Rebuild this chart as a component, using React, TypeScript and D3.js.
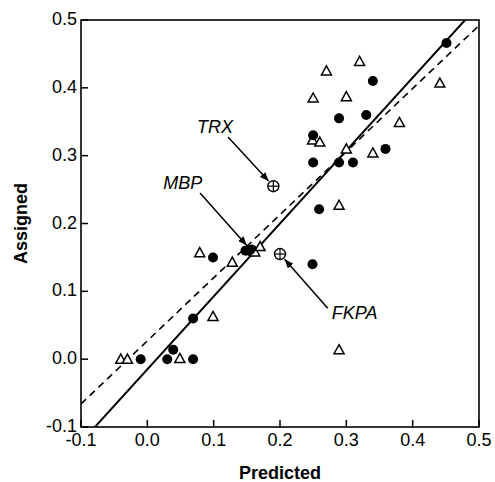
import React from "react";
import { scaleLinear } from "d3";

// filled circles
const filledX = [0.451, 0.34, 0.289, 0.33, 0.25, 0.25, 0.289, 0.31, 0.359, 0.259, 0.249, 0.148, 0.155, 0.099, 0.069, 0.039, -0.01, 0.03, 0.069];
const filledY = [0.466, 0.41, 0.355, 0.36, 0.33, 0.29, 0.29, 0.29, 0.31, 0.221, 0.14, 0.16, 0.161, 0.15, 0.06, 0.014, 0.0, 0.0, 0.0];

// open triangles
const openX = [0.32, 0.27, 0.441, 0.25, 0.3, 0.38, 0.249, 0.26, 0.3, 0.34, 0.289, 0.289, 0.079, 0.128, 0.162, 0.17, 0.099, 0.049, -0.04, -0.03];
const openY = [0.439, 0.425, 0.407, 0.385, 0.387, 0.349, 0.323, 0.32, 0.31, 0.304, 0.227, 0.014, 0.157, 0.143, 0.158, 0.166, 0.063, 0.001, 0.0, 0.0];

// labelled proteins (crossed circles)
const namedLabels = ["TRX", "MBP", "FKPA"];
const namedX = [0.19, 0.157, 0.2];
const namedY = [0.255, 0.16, 0.155];
const labelX = [0.075, 0.024, 0.278];
const labelY = [0.333, 0.251, 0.059];
const arrowFromX = [0.1216, 0.0794, 0.272];
const arrowFromY = [0.3274, 0.245, 0.075];

// fit lines
const solidSlope = 1.075;
const solidIntercept = -0.015;
const dashSlope = 0.93;
const dashIntercept = 0.027;

const ticks = [-0.1, 0.0, 0.1, 0.2, 0.3, 0.4, 0.5];

export default function App() {
  const width = 495;
  const height = 482;
  const left = 81;
  const right = 479;
  const top = 20;
  const bottom = 427;
  const font = "'Liberation Sans', Arial, Helvetica, sans-serif";

  const x = scaleLinear().domain([-0.1, 0.5]).range([left, right]);
  const y = scaleLinear().domain([-0.1, 0.5]).range([bottom, top]);

  const fitLine = (m: number, b: number) => ({
    x1: x(-0.1),
    y1: y(m * -0.1 + b),
    x2: x(0.5),
    y2: y(m * 0.5 + b),
  });
  const solid = fitLine(solidSlope, solidIntercept);
  const dash = fitLine(dashSlope, dashIntercept);

  const tri = (cx: number, cy: number) => {
    const s = 5;
    return `M${cx},${cy - s} L${cx + s},${cy + s * 0.8} L${cx - s},${cy + s * 0.8} Z`;
  };

  return (
    <svg
      width={width}
      height={height}
      style={{ position: "absolute", left: 0, top: 0, background: "#fff" }}
      fontFamily={font}
    >
      <defs>
        <clipPath id="plot">
          <rect x={left} y={top} width={right - left} height={bottom - top} />
        </clipPath>
        <marker
          id="head"
          viewBox="0 0 10 10"
          refX={10}
          refY={5}
          markerWidth={9}
          markerHeight={9}
          markerUnits="userSpaceOnUse"
          orient="auto"
        >
          <path d="M0,1 L10,5 L0,9 Z" fill="#000" />
        </marker>
      </defs>

      <g clipPath="url(#plot)">
        <line {...dash} stroke="#000" strokeWidth={1.6} strokeDasharray="7,5" />
        <line {...solid} stroke="#000" strokeWidth={2} />
      </g>

      {namedLabels.map((name, i) => {
        const cx = x(namedX[i]);
        const cy = y(namedY[i]);
        const sx = x(arrowFromX[i]);
        const sy = y(arrowFromY[i]);
        const len = Math.hypot(cx - sx, cy - sy);
        const ex = cx - ((cx - sx) / len) * 7;
        const ey = cy - ((cy - sy) / len) * 7;
        return (
          <g key={name}>
            <line x1={sx} y1={sy} x2={ex} y2={ey} stroke="#000" strokeWidth={1.5} markerEnd="url(#head)" />
            <circle cx={cx} cy={cy} r={5.5} fill="#fff" stroke="#000" strokeWidth={1.4} />
            <line x1={cx - 5.5} y1={cy} x2={cx + 5.5} y2={cy} stroke="#000" strokeWidth={1.2} />
            <line x1={cx} y1={cy - 5.5} x2={cx} y2={cy + 5.5} stroke="#000" strokeWidth={1.2} />
            <text x={x(labelX[i])} y={y(labelY[i])} fontSize={18} fontStyle="italic">
              {name}
            </text>
          </g>
        );
      })}

      {openX.map((d, i) => (
        <path key={"t" + i} d={tri(x(d), y(openY[i]))} fill="#fff" stroke="#000" strokeWidth={1.5} />
      ))}
      {filledX.map((d, i) => (
        <circle key={"f" + i} cx={x(d)} cy={y(filledY[i])} r={5} fill="#000" />
      ))}

      <rect x={left} y={top} width={right - left} height={bottom - top} fill="none" stroke="#000" strokeWidth={1.6} />

      {ticks.map((t) => (
        <g key={"x" + t}>
          <line x1={x(t)} x2={x(t)} y1={bottom} y2={bottom - 7} stroke="#000" strokeWidth={1.5} />
          <text x={x(t)} y={bottom + 19} textAnchor="middle" fontSize={18}>
            {t.toFixed(1)}
          </text>
        </g>
      ))}
      {ticks.map((t) => (
        <g key={"y" + t}>
          <line x1={left} x2={left + 7} y1={y(t)} y2={y(t)} stroke="#000" strokeWidth={1.5} />
          <text x={left - 4} y={y(t) + 5} textAnchor="end" fontSize={18}>
            {t.toFixed(1)}
          </text>
        </g>
      ))}

      <text x={(left + right) / 2} y={479} textAnchor="middle" fontSize={18} fontWeight="bold">
        Predicted
      </text>
      <text
        transform={`translate(27,${(top + bottom) / 2}) rotate(-90)`}
        textAnchor="middle"
        fontSize={18}
        fontWeight="bold"
      >
        Assigned
      </text>
    </svg>
  );
}
